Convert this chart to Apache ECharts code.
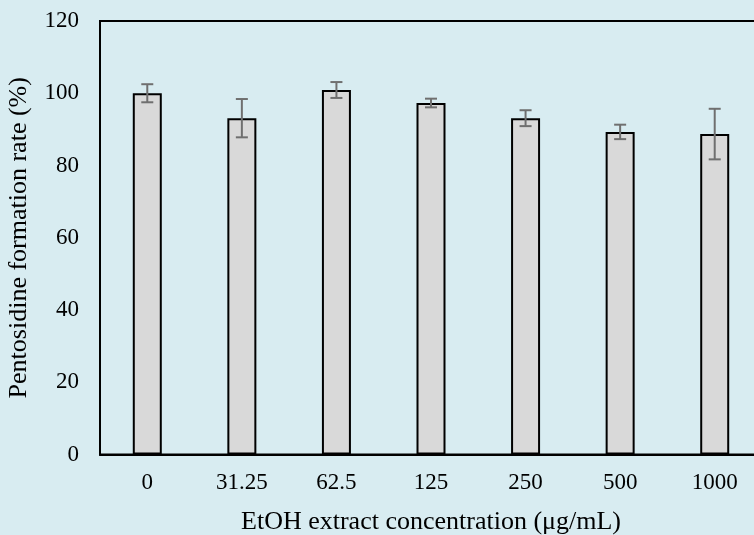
<!DOCTYPE html>
<html><head><meta charset="utf-8">
<script src="https://cdn.jsdelivr.net/npm/echarts@6/dist/echarts.min.js"></script>
<style>html,body{margin:0;padding:0;background:#d8ecf1;}#c{width:754px;height:535px;}</style>
</head><body><div id="c"></div>
<script>
const categories = ['0','31.25','62.5','125','250','500','1000'];
const values = [100.0, 93.1, 100.9, 97.3, 93.1, 89.3, 88.7];
const errors = [2.5, 5.3, 2.2, 1.2, 2.2, 2.0, 7.0];
const yTicks = [0, 20, 40, 60, 80, 100, 120];

const chart = echarts.init(document.getElementById('c'), null, {renderer:'canvas'});
const font = '"Liberation Serif","Times New Roman",serif';
chart.setOption({
  backgroundColor: '#d8ecf1',
  animation: false,
  grid: {left: 100, top: 21, width: 662, height: 433.5, show: true, borderColor: '#000', borderWidth: 2,
         backgroundColor: 'transparent', containLabel: false, outerBoundsMode: 'none'},
  xAxis: {
    type: 'category', data: categories,
    axisLine: {show: true, lineStyle: {color: '#000', width: 2}},
    axisTick: {show: false},
    axisLabel: {color: '#000', fontFamily: font, fontSize: 23, margin: 17},
    name: 'EtOH extract concentration (\u03bcg/mL)', nameLocation: 'middle', nameGap: 55,
    nameTextStyle: {color: '#000', fontFamily: font, fontSize: 26}
  },
  yAxis: {
    type: 'value', min: yTicks[0], max: yTicks[yTicks.length-1], interval: 20,
    axisLine: {show: true, lineStyle: {color: '#000', width: 2}},
    axisTick: {show: false}, splitLine: {show: false},
    axisLabel: {color: '#000', fontFamily: font, fontSize: 23, margin: 21},
    name: 'Pentosidine formation rate (%)', nameLocation: 'middle', nameGap: 68,
    nameTextStyle: {color: '#000', fontFamily: font, fontSize: 26}
  },
  series: [
    {type: 'bar', data: values, barWidth: 29,
     itemStyle: {color: '#d9d9d9', borderColor: '#000', borderWidth: 2}},
    {type: 'custom', data: values.map((v,i)=>[i, v-errors[i], v+errors[i]]), z: 10,
     renderItem: function(params, api){
       const lo = api.coord([api.value(0), api.value(1)]);
       const hi = api.coord([api.value(0), api.value(2)]);
       const x = lo[0], w = 6;
       const st = {stroke: '#6f6f6f', lineWidth: 2};
       return {type: 'group', children: [
         {type:'line', shape:{x1:x,y1:lo[1],x2:x,y2:hi[1]}, style: st},
         {type:'line', shape:{x1:x-w,y1:lo[1],x2:x+w,y2:lo[1]}, style: st},
         {type:'line', shape:{x1:x-w,y1:hi[1],x2:x+w,y2:hi[1]}, style: st}
       ]};
     }}
  ]
});
</script></body></html>
